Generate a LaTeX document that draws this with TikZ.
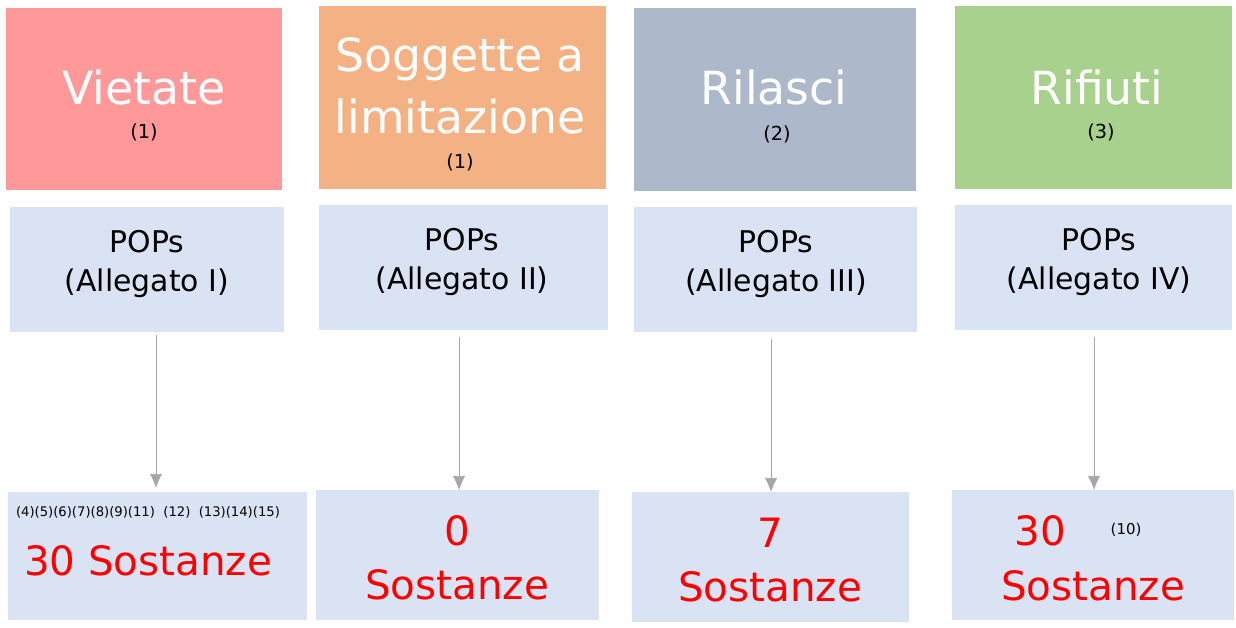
\documentclass[tikz,border=0pt]{standalone}
\usepackage{fontspec}
\setmainfont{DejaVu Sans}
\usetikzlibrary{positioning,arrows.meta}
\definecolor{cpink}{HTML}{FF9999}
\definecolor{corange}{HTML}{F4B183}
\definecolor{cgrey}{HTML}{ADB9CA}
\definecolor{cgreen}{HTML}{A9D18E}
\definecolor{cblue}{HTML}{DAE3F3}
\definecolor{carrow}{HTML}{A6A6A6}
\tikzset{
    head/.style={font=\fontsize{26}{35}\selectfont, text=white, align=center},
    note/.style={font=\fontsize{11}{13}\selectfont, align=center},
    pops/.style={font=\fontsize{17}{22}\selectfont, align=center},
    count/.style={font=\fontsize{23}{31}\selectfont, text=red, align=center},
    link/.style={draw=carrow, -{Latex[length=8pt,width=7pt]}}
}
\begin{document}
\begin{tikzpicture}[x=0.02cm, y=-0.02cm]
    \useasboundingbox (0,0) rectangle (1236,628);
    % top row
    \fill[cpink]   (6,8)   rectangle (282,190);
    \fill[corange] (319,6) rectangle (606,189);
    \fill[cgrey]   (634,8) rectangle (916,191);
    \fill[cgreen]  (955,6) rectangle (1232,189);
    \node[head] (h1) at (144,87)  {Vietate};
    \node[note] (n1) at (144,132) {(1)};
    \node[head] (h2) at (460,86)  {Soggette a\\limitazione};
    \node[note] (n2) at (460,162) {(1)};
    \node[head] (h3) at (774,87)  {Rilasci};
    \node[note] (n3) at (777,134) {(2)};
    \node[head] (h4) at (1097,87) {Rifiuti};
    \node[note] (n4) at (1101,132) {(3)};
    % middle row
    \fill[cblue] (10,207)  rectangle (284,332);
    \fill[cblue] (319,205) rectangle (608,330);
    \fill[cblue] (634,207) rectangle (917,332);
    \fill[cblue] (955,205) rectangle (1232,330);
    \node[pops] (p1) at (147,264)  {POPs\\(Allegato I)};
    \node[pops] (p2) at (462,262)  {POPs\\(Allegato II)};
    \node[pops] (p3) at (776,264)  {POPs\\(Allegato III)};
    \node[pops] (p4) at (1099,262) {POPs\\(Allegato IV)};
    % bottom row
    \fill[cblue] (8,492)   rectangle (307,620);
    \fill[cblue] (316,490) rectangle (599,620);
    \fill[cblue] (632,492) rectangle (909,622);
    \fill[cblue] (952,490) rectangle (1234,620);
    \node[font=\fontsize{7.5}{9}\selectfont] (r1) at (148,512) {(4)(5)(6)(7)(8)(9)(11) \ (12) \ (13)(14)(15)};
    \node[count] (c1) at (148,561) {30 Sostanze};
    \node[count] (c2) at (457,558) {0\\Sostanze};
    \node[count] (c3) at (770,560) {7\\Sostanze};
    \node[count] (c4) at (1040,531) {30};
    \node[count] (s4) at (1093,586) {Sostanze};
    \node[note, font=\fontsize{8.5}{10}\selectfont] (r4) at (1126,530) {(10)};
    % arrows
    \coordinate (a1) at (156,335);  \coordinate (b1) at (156,488);
    \coordinate (a2) at (459,337);  \coordinate (b2) at (459,490);
    \coordinate (a3) at (771,339);  \coordinate (b3) at (771,492);
    \coordinate (a4) at (1094,337); \coordinate (b4) at (1094,490);
    \foreach \i in {1,...,4}
        \draw[link] (a\i) -- (b\i);
\end{tikzpicture}
\end{document}
